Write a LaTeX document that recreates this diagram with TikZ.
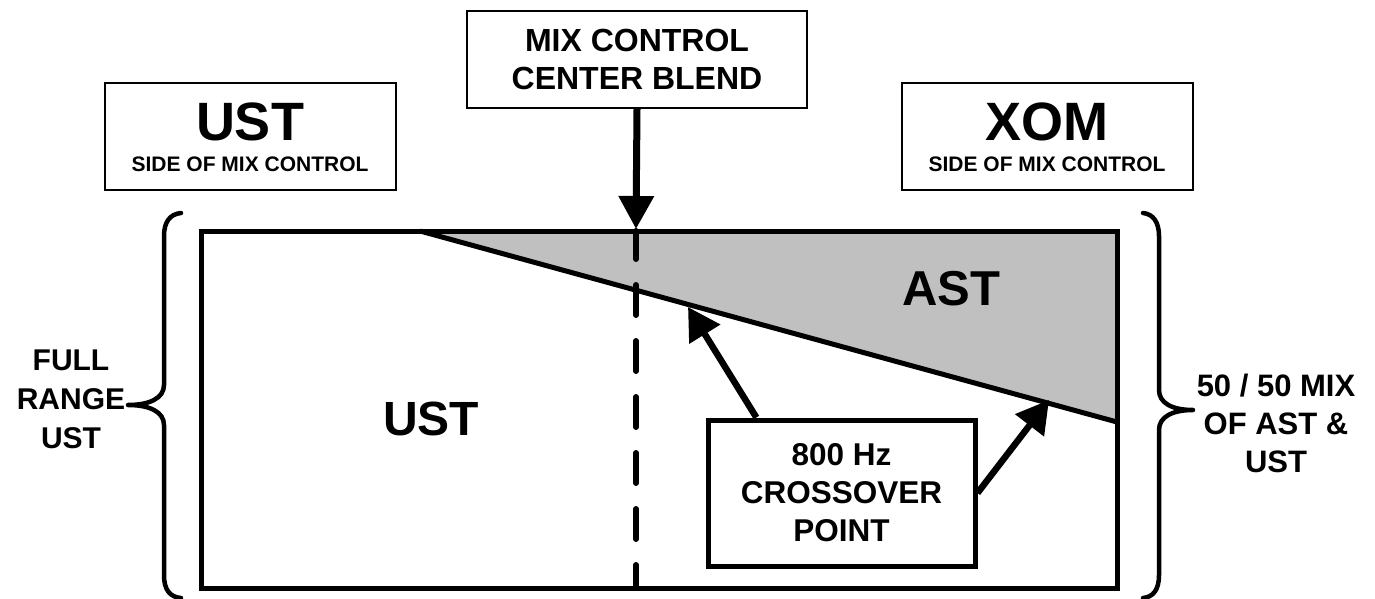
\documentclass[tikz,border=0pt]{standalone}
\usepackage{fontspec}
\setmainfont{Liberation Sans}
\usetikzlibrary{arrows.meta,calc}
\definecolor{astgray}{HTML}{C0C0C0}
\tikzset{
  thinbox/.style={draw=black,line width=1.5pt,fill=white,inner sep=0pt,align=center},
  thickbox/.style={draw=black,line width=5pt,fill=white,inner sep=0pt,align=center},
  lbl/.style={inner sep=0pt,align=center,font=\bfseries},
  bracepath/.style={line width=4.5pt,line cap=round,line join=round},
  bigarrow/.style={line width=7pt,-{Triangle[width=34pt,length=33pt]}},
  xarrow/.style={line width=6.5pt,-{Triangle[width=35pt,length=32pt]}},
  frame/.style={line width=5pt,line join=miter},
  dashline/.style={line width=6pt,line cap=round,dash pattern=on 30pt off 26pt,dash phase=2pt}
}
\begin{document}
\begin{tikzpicture}[x=1pt,y=-1pt]
\useasboundingbox (0,0) rectangle (1375,599);
% shaded AST region
\fill[astgray] (420,231) -- (1117,231) -- (1117,422) -- cycle;
\draw[frame] (420,231) -- (1117,422);
\draw[dashline] (636,231) -- (636,588);
\draw[frame] (201,231) rectangle (1117,588);
% braces
\draw[bracepath] (181,213) .. controls (170,214) and (164,222) .. (164,236) -- (164,385)
  .. controls (164,398) and (150,405) .. (128,405)
  .. controls (150,405) and (164,412) .. (164,425) -- (164,575)
  .. controls (164,590) and (170,597) .. (181,598);
\draw[bracepath] (1143,213) .. controls (1153,214) and (1159,222) .. (1159,236) -- (1159,390)
  .. controls (1159,403) and (1172,410) .. (1193,410)
  .. controls (1172,410) and (1159,417) .. (1159,430) -- (1159,575)
  .. controls (1159,590) and (1153,597) .. (1143,598);
% top boxes
\node[thinbox,minimum width=340pt,minimum height=97pt,font=\bfseries\fontsize{32}{38}\selectfont] (mix) at (637,59.5) {MIX CONTROL\\CENTER BLEND};
\node[thinbox,minimum width=291pt,minimum height=107pt] (ustbox) at (250.5,136.5) {};
\node[thinbox,minimum width=291pt,minimum height=107pt] (xombox) at (1047.5,136.5) {};
\node[lbl,anchor=base,font=\bfseries\fontsize{54}{60}\selectfont] (ustbig) at (250,140) {UST};
\node[lbl,anchor=base,font=\bfseries\fontsize{21}{26}\selectfont] (ustside) at (250,171) {SIDE OF MIX CONTROL};
\node[lbl,anchor=base,font=\bfseries\fontsize{54}{60}\selectfont] (xombig) at (1047,140) {XOM};
\node[lbl,anchor=base,font=\bfseries\fontsize{21}{26}\selectfont] (xomside) at (1047,171) {SIDE OF MIX CONTROL};
% main arrow
\coordinate (mixtip) at (636,229);
\draw[bigarrow] (mix.south) -- (mixtip);
% region labels
\node[lbl,anchor=base,font=\bfseries\fontsize{48}{52}\selectfont] (ustmain) at (431,435) {UST};
\node[lbl,anchor=base,font=\bfseries\fontsize{49}{52}\selectfont] (astmain) at (951,305) {AST};
% side labels
\node[lbl,font=\bfseries\fontsize{30}{39}\selectfont] (full) at (71,399) {FULL\\RANGE\\UST};
\node[lbl,font=\bfseries\fontsize{31}{38}\selectfont] (mix5050) at (1276,423) {50 / 50 MIX\\OF AST \&\\UST};
% crossover box
\node[thickbox,minimum width=267pt,minimum height=146pt,font=\bfseries\fontsize{31.5}{38}\selectfont] (xo) at (841.5,493) {800 Hz\\CROSSOVER\\POINT};
\coordinate (xtip1) at (688,307);
\coordinate (xtip2) at (1049,400);
\draw[xarrow] ($(xo.north west)!0.187!(xo.north east)$) -- (xtip1);
\draw[xarrow] (xo.east) -- (xtip2);
\end{tikzpicture}
\end{document}
